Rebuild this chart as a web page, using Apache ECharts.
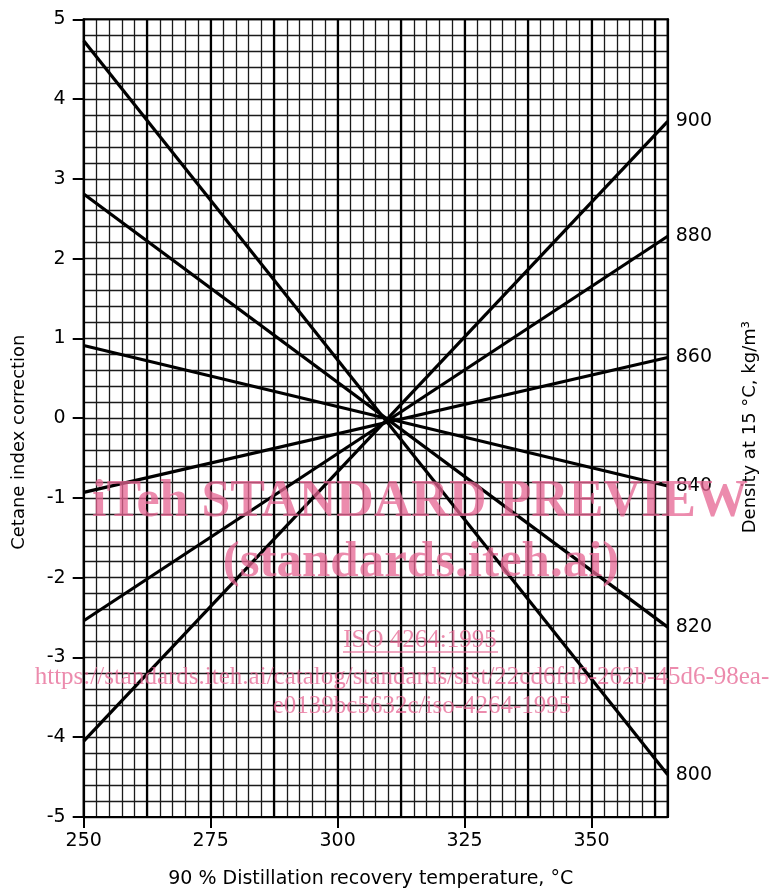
<!DOCTYPE html>
<html>
<head>
<meta charset="utf-8">
<script src="https://cdn.jsdelivr.net/npm/echarts@6/dist/echarts.min.js"></script>
<style>
  html, body { margin: 0; padding: 0; background: #fff; }
  #chart { width: 783px; height: 894px; }
</style>
</head>
<body>
<div id="chart"></div>
<script>
// ---- data ----
const temperatureEnds = [250, 365];                 // x at left and right edge of the plot
const correctionAt250 = [4.73, 2.81, 0.91, -0.93, -2.54, -4.05];
const correctionAt365 = [-4.47, -2.62, -0.85, 0.76, 2.28, 3.72];
const densityLabels = ['800', '820', '840', '860', '880', '900'];
const xTickLabels = [250, 275, 300, 325, 350];
const yTickLabels = [-5, -4, -3, -2, -1, 0, 1, 2, 3, 4, 5];

const FONT = 'DejaVu Sans';
const chart = echarts.init(document.getElementById('chart'), null, { renderer: 'canvas' });

const gridLine = { color: '#1a1a1a', width: 1.3 };

const series = correctionAt250.map((v, i) => ({
  type: 'line',
  xAxisIndex: 0,
  yAxisIndex: 0,
  symbol: 'none',
  silent: true,
  z: 5,
  lineStyle: { color: '#000', width: 3.2 },
  data: [[temperatureEnds[0], v], [temperatureEnds[1], correctionAt365[i]]],
  endLabel: {
    show: true,
    formatter: () => densityLabels[i],
    distance: 8,
    fontFamily: FONT,
    fontSize: 19,
    color: '#000'
  }
}));

const pink = 'rgba(230, 100, 145, 0.75)';

chart.setOption({
  animation: false,
  backgroundColor: '#fff',
  grid: { left: 83.7, right: 115.3, top: 19.3, bottom: 76.7, show: true, borderColor: '#000', borderWidth: 2, backgroundColor: 'transparent', z: 3 },
  xAxis: [
    { // fine grid, every 2.5
      type: 'value', min: temperatureEnds[0], max: temperatureEnds[1], interval: 2.5, position: 'bottom',
      axisLine: { show: false }, axisTick: { show: false }, axisLabel: { show: false },
      splitLine: { show: true, lineStyle: gridLine }
    },
    { // heavier lines every 12.5
      type: 'value', min: temperatureEnds[0], max: temperatureEnds[1], interval: 12.5, position: 'top',
      axisLine: { show: false }, axisTick: { show: false }, axisLabel: { show: false },
      splitLine: { show: true, lineStyle: { color: '#000', width: 2.2 } }
    },
    { // labelled axis
      type: 'value', min: temperatureEnds[0], max: temperatureEnds[1], position: 'bottom',
      axisLine: { show: true, lineStyle: { color: '#000', width: 2 } },
      axisTick: { show: true, customValues: xTickLabels, length: 11, inside: false, lineStyle: { color: '#000', width: 2 } },
      axisLabel: { show: true, customValues: xTickLabels, margin: 15, fontFamily: FONT, fontSize: 19, color: '#000' },
      splitLine: { show: false },
      name: '90 % Distillation recovery temperature, °C',
      nameLocation: 'middle',
      nameGap: 53,
      nameTextStyle: { fontFamily: FONT, fontSize: 19, color: '#000', padding: [0, 10, 0, 0] }
    }
  ],
  yAxis: [
    {
      type: 'value', min: -5, max: 5, interval: 1, position: 'left',
      axisLine: { show: true, lineStyle: { color: '#000', width: 2 } },
      axisTick: { show: true, customValues: yTickLabels, length: 11, lineStyle: { color: '#000', width: 2 } },
      axisLabel: { show: true, customValues: yTickLabels, margin: 18, fontFamily: FONT, fontSize: 19, color: '#000' },
      splitLine: { show: false },
      name: 'Cetane index correction',
      nameLocation: 'middle',
      nameGap: 55,
      nameTextStyle: { fontFamily: FONT, fontSize: 18, color: '#000', padding: [0, 48, 0, 0] }
    },
    {
      type: 'value', min: -5, max: 5, interval: 0.2, position: 'right',
      axisLine: { show: true, lineStyle: { color: '#000', width: 2 } },
      axisTick: { show: false }, axisLabel: { show: false },
      splitLine: { show: true, lineStyle: gridLine },
      name: 'Density at 15 °C, kg/m³',
      nameLocation: 'middle',
      nameGap: 74,
      nameTextStyle: { fontFamily: FONT, fontSize: 18, color: '#000', padding: [0, 18, 0, 0] }
    }
  ],
  series: series,
  graphic: [
    { type: 'text', z: 100, silent: true, x: 420, y: 503,
      style: { text: 'iTeh STANDARD PREVIEW', font: 'bold 52px "Liberation Serif"', fill: pink, align: 'center', verticalAlign: 'middle' } },
    { type: 'text', z: 100, silent: true, x: 421, y: 563,
      style: { text: '(standards.iteh.ai)', font: 'bold 51px "Liberation Serif"', fill: pink, align: 'center', verticalAlign: 'middle' } },
    { type: 'text', z: 100, silent: true, x: 420, y: 640,
      style: { text: 'ISO 4264:1995', font: '25px "Liberation Serif"', fill: pink, align: 'center', verticalAlign: 'middle' } },
    { type: 'line', z: 100, silent: true,
      shape: { x1: 343, y1: 652, x2: 498, y2: 652 }, style: { stroke: pink, lineWidth: 1.3 } },
    { type: 'text', z: 100, silent: true, x: 402, y: 677,
      style: { text: 'https://standards.iteh.ai/catalog/standards/sist/22cd6fd6-262b-45d6-98ea-', font: '25px "Liberation Serif"', fill: pink, align: 'center', verticalAlign: 'middle' } },
    { type: 'text', z: 100, silent: true, x: 422, y: 706,
      style: { text: 'e0139bc5632c/iso-4264-1995', font: '25px "Liberation Serif"', fill: pink, align: 'center', verticalAlign: 'middle' } }
  ]
});
</script>
</body>
</html>
